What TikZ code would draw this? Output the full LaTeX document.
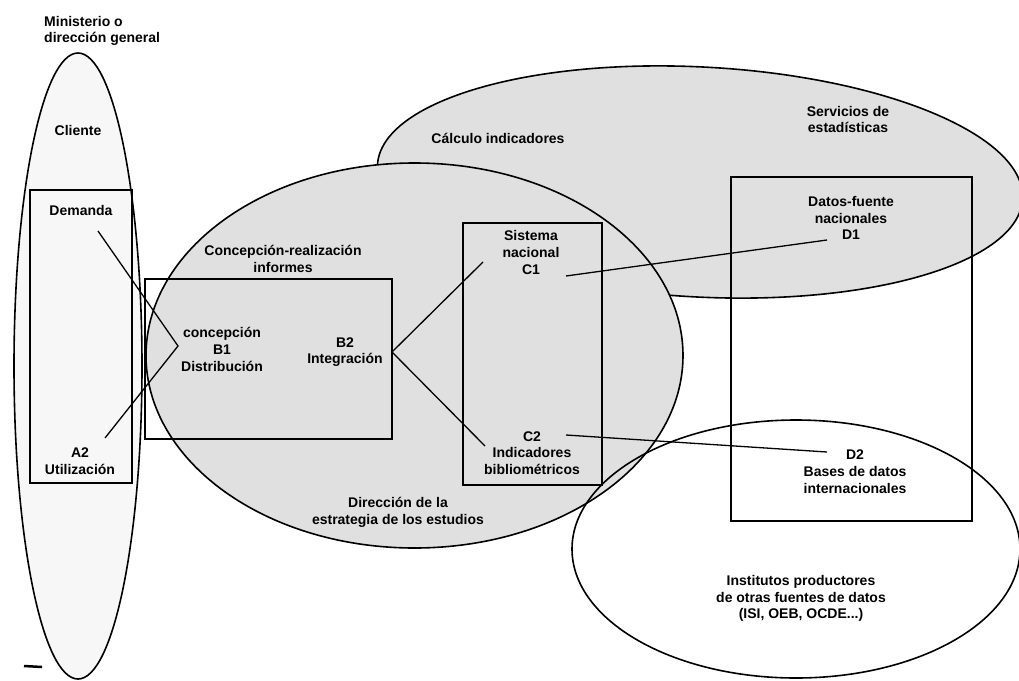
\documentclass[tikz,border=0pt]{standalone}
\usepackage{fontspec}
\setmainfont{Liberation Sans}
\begin{document}
\begin{tikzpicture}[x=1pt,y=-1pt,
  shape line/.style={line width=1.6pt, black},
  link/.style={line width=1.3pt, black},
  lbl/.style={align=center, inner sep=0pt, font=\fontsize{14}{16.7}\selectfont\bfseries, text=black}
]
\useasboundingbox (0,0) rectangle (1019,680);
\fill[white] (0,0) rectangle (1019,680);
% ellipses
\filldraw[shape line, fill=gray!24, rotate around={-3:(700,182)}] (700,182) ellipse [x radius=323, y radius=115];
\filldraw[shape line, fill=gray!6] (78,366) ellipse [x radius=64, y radius=313];
\filldraw[shape line, fill=gray!24] (414.5,355.5) ellipse [x radius=268.5, y radius=192.5];
\draw[shape line] (796,549) ellipse [x radius=224, y radius=129];
% boxes
\draw[shape line] (30,190) rectangle (132,483);
\draw[shape line] (145,279) rectangle (392,439);
\draw[shape line] (463,223) rectangle (602,485);
\draw[shape line] (731,177) rectangle (972,521);
% texts
\node[lbl, anchor=west, align=left] (min) at (44,31) {Ministerio o\\dirección general};
\node[lbl] (cli) at (78,130) {Cliente};
\node[lbl] (dem) at (81,210) {Demanda};
\node[lbl] (a2) at (80,461) {A2\\Utilización};
\node[lbl] (cri) at (283,259) {Concepción-realización\\informes};
\node[lbl] (b1) at (222,349.5) {concepción\\B1\\Distribución};
\node[lbl] (b2) at (345,352) {B2\\Integración};
\node[lbl] (c1) at (531,252.5) {Sistema\\nacional\\C1};
\node[lbl] (c2) at (532,453) {C2\\Indicadores\\bibliométricos};
\node[lbl] (dir) at (398,512.5) {Dirección de la\\estrategia de los estudios};
\node[lbl] (calc) at (498,138) {Cálculo indicadores};
\node[lbl] (serv) at (848,119.5) {Servicios de\\estadísticas};
\node[lbl] (d1) at (851,218) {Datos-fuente\\nacionales\\D1};
\node[lbl] (d2) at (855,471.5) {D2\\Bases de datos\\internacionales};
\node[lbl] (inst) at (801,598.5) {Institutos productores\\de otras fuentes de datos\\(ISI, OEB, OCDE...)};
% connector ends
\coordinate (demEnd) at (98,231);
\coordinate (a2End) at (105,438);
\coordinate (b1V) at (178,346);
\coordinate (b2V) at (392,352);
\coordinate (c1L) at (483,262);
\coordinate (c2L) at (485,446);
\coordinate (c1R) at (566,276);
\coordinate (d1L) at (827,240);
\coordinate (c2R) at (566,435);
\coordinate (d2L) at (827,452);
\draw[link] (demEnd) -- (b1V) -- (a2End);
\draw[link] (c1L) -- (b2V) -- (c2L);
\draw[link] (c1R) -- (d1L);
\draw[link] (c2R) -- (d2L);
% scan mark
\coordinate (m1) at (24,666);
\coordinate (m2) at (42,667);
\draw[line width=2.5pt] (m1) -- (m2);
\end{tikzpicture}
\end{document}
